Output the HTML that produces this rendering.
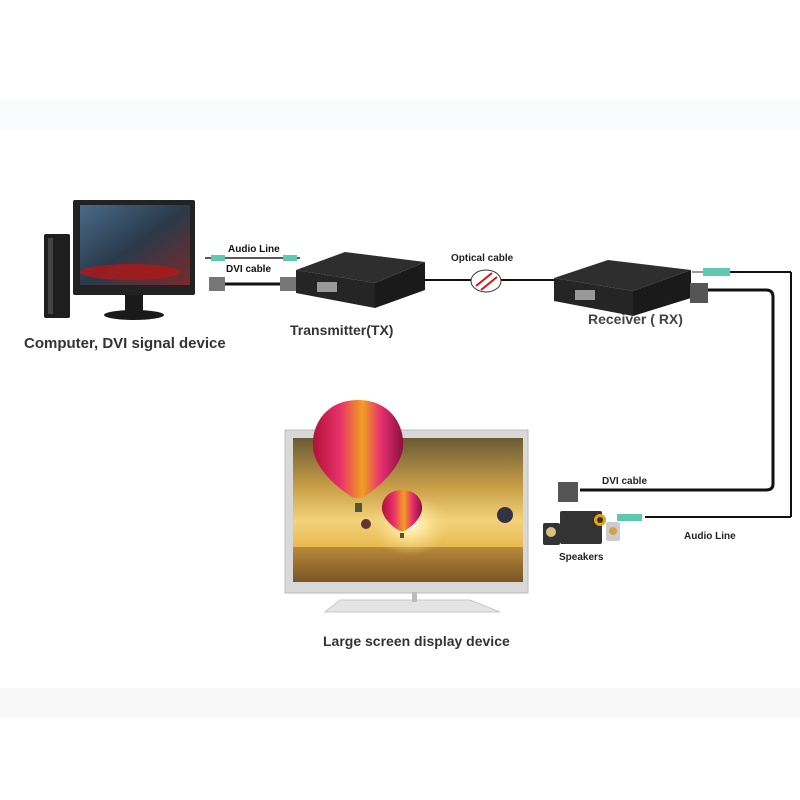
<!DOCTYPE html>
<html><head><meta charset="utf-8"><style>
html,body{margin:0;padding:0;background:#fff;}
svg{display:block;}
text{font-family:"Liberation Sans",sans-serif;font-weight:bold;}
</style></head><body>
<svg width="800" height="800" viewBox="0 0 800 800" xmlns="http://www.w3.org/2000/svg">
<defs>
<linearGradient id="sky" x1="0" y1="0" x2="0" y2="1">
<stop offset="0" stop-color="#6b5a35"/><stop offset="0.45" stop-color="#c9a048"/><stop offset="0.75" stop-color="#f2d27a"/><stop offset="1" stop-color="#e8b850"/>
</linearGradient>
<linearGradient id="sea" x1="0" y1="0" x2="0" y2="1">
<stop offset="0" stop-color="#b88a3a"/><stop offset="1" stop-color="#7a5424"/>
</linearGradient>
<radialGradient id="sun" cx="0.5" cy="0.5" r="0.5">
<stop offset="0" stop-color="#fffbe0"/><stop offset="0.4" stop-color="#ffe9a0" stop-opacity="0.8"/><stop offset="1" stop-color="#f2d27a" stop-opacity="0"/>
</radialGradient>
<linearGradient id="bal" x1="0" y1="0" x2="1" y2="0">
<stop offset="0" stop-color="#b0123a"/><stop offset="0.3" stop-color="#e8306a"/><stop offset="0.55" stop-color="#f0a020"/><stop offset="0.75" stop-color="#e83070"/><stop offset="1" stop-color="#8a1040"/>
</linearGradient>
<linearGradient id="mon" x1="0" y1="0" x2="1" y2="1">
<stop offset="0" stop-color="#4a6a8a"/><stop offset="0.5" stop-color="#2a3a4a"/><stop offset="1" stop-color="#7a2a2a"/>
</linearGradient>
</defs>
<rect width="800" height="800" fill="#fff"/>
<rect x="0" y="100" width="800" height="30" fill="#fafbfc"/>
<rect x="0" y="688" width="800" height="30" fill="#f8f8f9"/>

<rect x="44" y="234" width="26" height="84" fill="#1e1e1e" rx="2"/>
<rect x="48" y="238" width="5" height="76" fill="#444"/>
<rect x="73" y="200" width="122" height="95" fill="#222" rx="2"/>
<rect x="80" y="205" width="110" height="80" fill="url(#mon)"/>
<ellipse cx="130" cy="272" rx="50" ry="8" fill="#b01818" opacity="0.8"/>
<rect x="125" y="295" width="18" height="18" fill="#1a1a1a"/>
<ellipse cx="134" cy="315" rx="30" ry="5" fill="#1a1a1a"/>

<line x1="205" y1="258" x2="300" y2="258" stroke="#222" stroke-width="1.5"/>
<rect x="211" y="255" width="14" height="6" fill="#5cc9b0"/>
<rect x="283" y="255" width="14" height="6" fill="#5cc9b0"/>
<line x1="225" y1="284" x2="285" y2="284" stroke="#111" stroke-width="3"/>
<rect x="209" y="277" width="16" height="14" fill="#777"/>
<rect x="280" y="277" width="16" height="14" fill="#777"/>
<text x="228" y="252" font-size="10" fill="#111">Audio Line</text>
<text x="226" y="272" font-size="10" fill="#111">DVI cable</text>

<!-- transmitter -->
<g>
<polygon points="296,270 375,283 375,308 296,293" fill="#252525"/>
<polygon points="375,283 425,262 425,290 375,308" fill="#1a1a1a"/>
<polygon points="296,270 345,252 425,262 375,283" fill="#2e2e2e"/>
<rect x="317" y="282" width="20" height="10" fill="#999"/>
</g>
<text x="290" y="335" font-size="14" fill="#333">Transmitter(TX)</text>
<text x="24" y="348" font-size="15" fill="#333">Computer, DVI signal device</text>

<line x1="425" y1="280" x2="555" y2="280" stroke="#111" stroke-width="2"/>
<ellipse cx="486" cy="281" rx="15" ry="11" fill="#fff" stroke="#333" stroke-width="1"/>
<line x1="476" y1="286" x2="492" y2="273" stroke="#e01010" stroke-width="2"/>
<line x1="481" y1="290" x2="497" y2="277" stroke="#e01010" stroke-width="2"/>
<text x="451" y="261" font-size="10" fill="#222">Optical cable</text>

<!-- receiver -->
<g transform="translate(258,8)">
<polygon points="296,270 375,283 375,308 296,293" fill="#252525"/>
<polygon points="375,283 433,262 433,290 375,308" fill="#1a1a1a"/>
<polygon points="296,270 350,252 433,262 375,283" fill="#2e2e2e"/>
<rect x="317" y="282" width="20" height="10" fill="#999"/>
</g>
<text x="588" y="324" font-size="14" fill="#444">Receiver ( RX)</text>

<line x1="730" y1="272" x2="791" y2="272" stroke="#111" stroke-width="2"/>
<line x1="791" y1="272" x2="791" y2="517" stroke="#111" stroke-width="2"/>
<line x1="791" y1="517" x2="645" y2="517" stroke="#111" stroke-width="2"/>
<rect x="703" y="268" width="27" height="8" fill="#5cc9b0"/>
<line x1="692" y1="272" x2="703" y2="272" stroke="#999" stroke-width="2"/>
<path d="M708 290 L766 290 Q773 290 773 297 L773 484 Q773 490 766 490 L580 490" fill="none" stroke="#111" stroke-width="3"/>
<rect x="690" y="283" width="18" height="20" fill="#555"/>
<rect x="558" y="482" width="20" height="20" fill="#555"/>
<text x="602" y="484" font-size="10" fill="#222">DVI cable</text>
<text x="684" y="539" font-size="10" fill="#222">Audio Line</text>

<rect x="560" y="511" width="42" height="33" fill="#333" rx="2"/>
<circle cx="600" cy="520" r="6" fill="#e8a010"/>
<circle cx="600" cy="520" r="3" fill="#333"/>
<rect x="543" y="523" width="17" height="22" fill="#333" rx="2"/>
<circle cx="551" cy="532" r="5" fill="#d8c080"/>
<rect x="606" y="522" width="14" height="19" fill="#ccc" rx="2"/>
<circle cx="613" cy="531" r="4" fill="#d8a040"/>
<rect x="617" y="514" width="25" height="7" fill="#5cc9b0"/>
<text x="559" y="560" font-size="10" fill="#222">Speakers</text>

<rect x="285" y="430" width="243" height="163" fill="#d8d8d8" stroke="#bbb"/>
<rect x="293" y="438" width="230" height="110" fill="url(#sky)"/>
<rect x="293" y="547" width="230" height="35" fill="url(#sea)"/>
<ellipse cx="410" cy="525" rx="40" ry="30" fill="url(#sun)"/>
<path d="M340 600 L470 600 L500 612 L325 612 Z" fill="#e4e4e4" stroke="#c8c8c8"/>
<rect x="412" y="592" width="5" height="10" fill="#bbb"/>
<path d="M358 400 C390 400 405 425 403 448 C400 470 375 490 362 498 L354 498 C340 490 315 470 313 448 C311 425 326 400 358 400 Z" fill="url(#bal)"/>
<rect x="355" y="503" width="7" height="9" fill="#553"/>
<path d="M402 490 C416 490 423 500 422 510 C420 520 410 528 404 531 L400 531 C394 528 384 520 382 510 C381 500 388 490 402 490 Z" fill="url(#bal)"/>
<rect x="400" y="533" width="4" height="5" fill="#553"/>
<ellipse cx="505" cy="515" rx="8" ry="8" fill="#334"/>
<ellipse cx="366" cy="524" rx="5" ry="5" fill="#633"/>
<text x="323" y="646" font-size="14" fill="#333">Large screen display device</text>
</svg>
</body></html>
